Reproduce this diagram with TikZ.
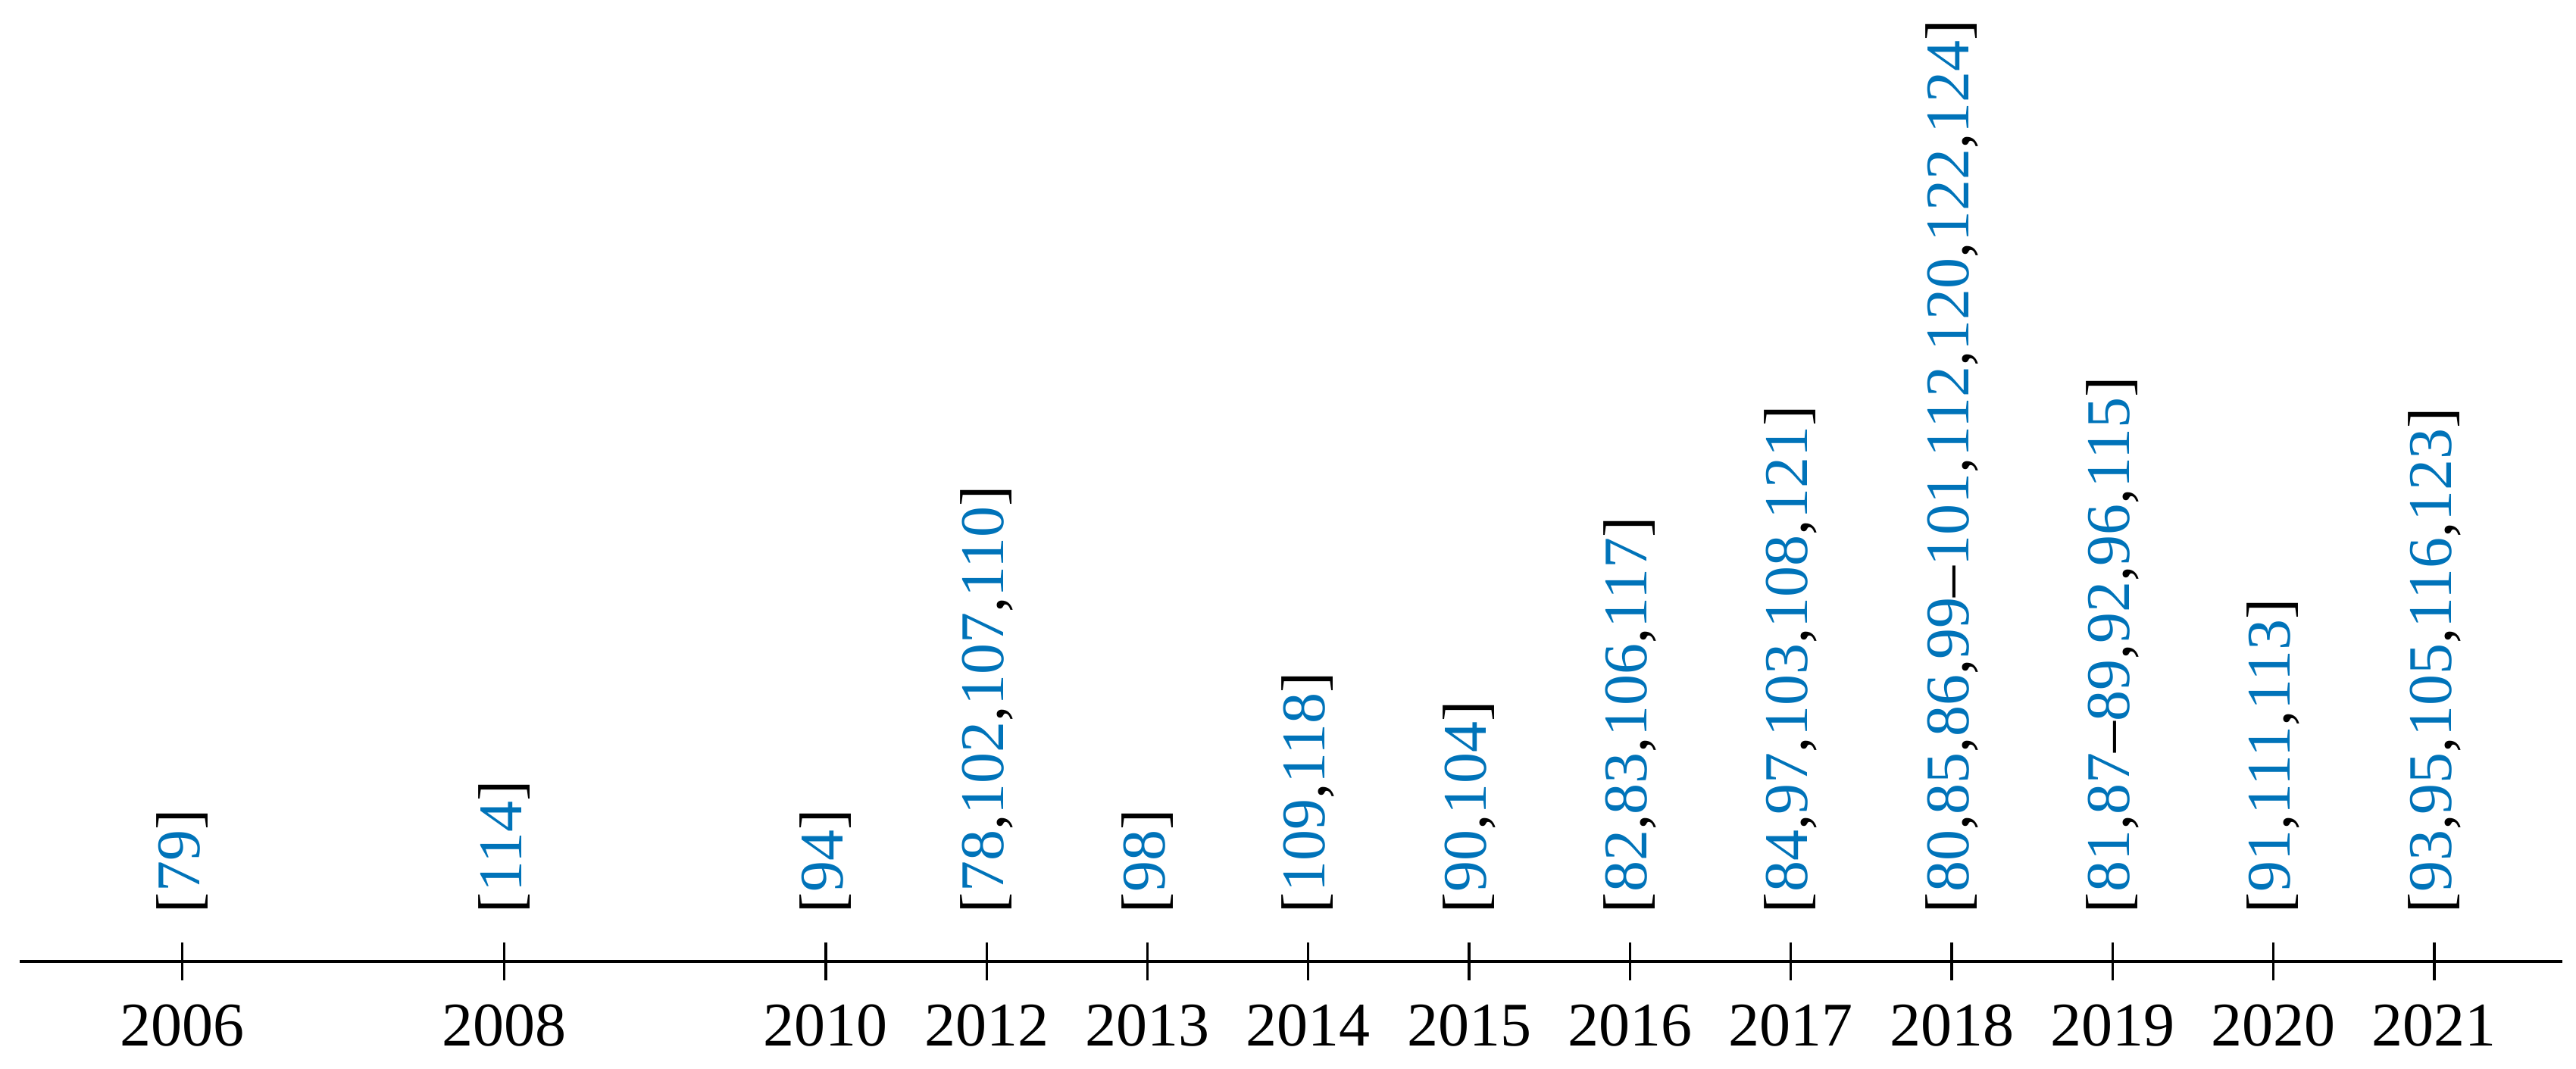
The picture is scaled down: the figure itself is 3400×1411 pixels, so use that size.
\documentclass[tikz,border=0pt]{standalone}
\usepackage{fontspec}
\setmainfont{Liberation Serif}
\definecolor{citeblue}{RGB}{0,115,185}
\tikzset{
  axisline/.style={line width=0.4pt},
  tickline/.style={line width=0.33pt},
  yearlabel/.style={anchor=base, inner sep=0pt, font=\fontsize{8.2}{10}\selectfont},
  citelabel/.style={rotate=90, anchor=west, inner sep=0pt, font=\fontsize{8.2}{10}\selectfont},
}
\newcommand\cb[1]{\textcolor{citeblue}{#1}}
\begin{document}
\begin{tikzpicture}[x=0.1pt,y=-0.1pt]
\useasboundingbox (0,0) rectangle (3400,1411);
\coordinate (L) at (26,1269);
\coordinate (R) at (3382,1269);
\draw[axisline] (L) -- (R);
\foreach \n/\i/\yr/\refs in {
  a/0/2006/{[\cb{79}]},
  b/2/2008/{[\cb{114}]},
  c/4/2010/{[\cb{94}]},
  d/5/2012/{[\cb{78},\cb{102},\cb{107},\cb{110}]},
  e/6/2013/{[\cb{98}]},
  f/7/2014/{[\cb{109},\cb{118}]},
  g/8/2015/{[\cb{90},\cb{104}]},
  h/9/2016/{[\cb{82},\cb{83},\cb{106},\cb{117}]},
  i/10/2017/{[\cb{84},\cb{97},\cb{103},\cb{108},\cb{121}]},
  j/11/2018/{[\cb{80},\cb{85},\cb{86},\cb{99}--\cb{101},\cb{112},\cb{120},\cb{122},\cb{124}]},
  k/12/2019/{[\cb{81},\cb{87}--\cb{89},\cb{92},\cb{96},\cb{115}]},
  l/13/2020/{[\cb{91},\cb{111},\cb{113}]},
  m/14/2021/{[\cb{93},\cb{95},\cb{105},\cb{116},\cb{123}]}%
}{
  \coordinate (tt\n) at ({240.7+212.3*\i},1244);
  \coordinate (tb\n) at ({240.7+212.3*\i},1294);
  \draw[tickline] (tt\n) -- (tb\n);
  \node[yearlabel] (year\n) at ({240.7+212.3*\i},1380) {\yr};
  \node[citelabel] (cite\n) at ({240.7+212.3*\i},1207) {\refs};
}
\end{tikzpicture}
\end{document}
